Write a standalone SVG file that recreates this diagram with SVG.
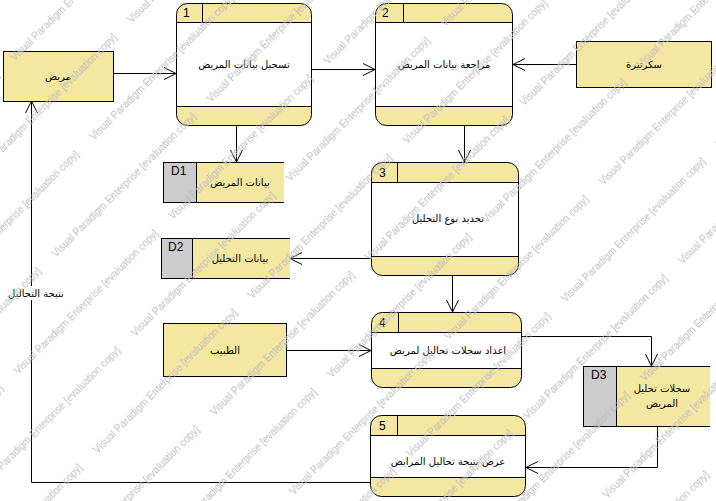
<svg xmlns="http://www.w3.org/2000/svg" width="716" height="501" viewBox="0 0 716 501">
<style>
.ent{fill:#f3e7a1;stroke:#000;stroke-width:1}
.proc{fill:#f3e7a1;stroke:#000;stroke-width:1}
.body{fill:#fff;stroke:#000;stroke-width:1}
.ln{stroke:#000;stroke-width:1;fill:none}
.sid{fill:#cccccc;stroke:#000;stroke-width:1}
.syel{fill:#f3e7a1;stroke:none}
.ar{font-family:"DejaVu Sans",sans-serif;font-size:10px;fill:#000;text-anchor:middle}
.num{font-family:"Liberation Sans",Arial,sans-serif;font-size:12px;fill:#000}
.wmt{font-family:"Liberation Sans",Arial,sans-serif;font-size:10px;fill:#bdbdbd}
.con{stroke:#000;stroke-width:1;fill:none;marker-end:url(#arr)}
</style>
<defs>
<marker id="arr" viewBox="-13 -7 14 14" refX="0" refY="0" markerWidth="14" markerHeight="14" markerUnits="userSpaceOnUse" orient="auto">
<path d="M-12,-6 L0,0 L-12,6" fill="none" stroke="#000" stroke-width="1"/>
</marker>
<pattern id="wm" patternUnits="userSpaceOnUse" width="219" height="112" patternTransform="rotate(-45) translate(176,24)">
<g class="wmt">
<text x="10" y="30">Visual Paradigm Enterprise [evaluation copy]</text>
<text x="-209" y="30">Visual Paradigm Enterprise [evaluation copy]</text>
<text x="119.5" y="86">Visual Paradigm Enterprise [evaluation copy]</text>
<text x="-99.5" y="86">Visual Paradigm Enterprise [evaluation copy]</text>
</g>
</pattern>
</defs>
<rect width="716" height="501" fill="#fff"/>

<g id="connectors">
<line class="con" x1="114" y1="73.5" x2="176" y2="73.5"/>
<line class="con" x1="312" y1="69.5" x2="375" y2="69.5"/>
<line class="con" x1="576" y1="64.5" x2="513" y2="64.5"/>
<line class="con" x1="236.5" y1="126" x2="236.5" y2="162"/>
<line class="con" x1="464.5" y1="126" x2="464.5" y2="162"/>
<line class="con" x1="371" y1="258.5" x2="290" y2="258.5"/>
<line class="con" x1="452.5" y1="276" x2="452.5" y2="312"/>
<line class="con" x1="287" y1="350.5" x2="371" y2="350.5"/>
<polyline class="con" points="522,336.5 651.5,336.5 651.5,366"/>
<polyline class="con" points="657.5,426 657.5,467.5 526,467.5"/>
<polyline class="con" points="370,482.5 31.5,482.5 31.5,101"/>
<rect x="12" y="286" width="48" height="14" fill="#fff"/>
<text class="ar" x="36" y="297">نتيجة التحاليل</text>
</g>

<g id="patient">
<rect class="ent" x="3.5" y="51.5" width="110" height="50"/>
<text class="ar" x="58" y="80">مريض</text>
</g>

<g id="secretary">
<rect class="ent" x="576.5" y="41.5" width="135" height="46"/>
<text class="ar" x="644" y="68">سكرتيرة</text>
</g>

<g id="doctor">
<rect class="ent" x="163.5" y="323.5" width="123" height="53"/>
<text class="ar" x="225" y="354">الطبيب</text>
</g>

<g id="p1">
<rect class="proc" x="176.5" y="3.5" width="135" height="122" rx="11"/>
<rect class="body" x="176.5" y="22.5" width="135" height="84"/>
<line class="ln" x1="202.5" y1="3.5" x2="202.5" y2="22.5"/>
<text class="num" x="183" y="17">1</text>
<text class="ar" x="244" y="68">تسجيل بيانات المريض</text>
</g>

<g id="p2">
<rect class="proc" x="375.5" y="3.5" width="137" height="122" rx="11"/>
<rect class="body" x="375.5" y="22.5" width="137" height="84"/>
<line class="ln" x1="403.5" y1="3.5" x2="403.5" y2="22.5"/>
<text class="num" x="382" y="17">2</text>
<text class="ar" x="444" y="68">مراجعة بيانات المريض</text>
</g>

<g id="p3">
<rect class="proc" x="371.5" y="162.5" width="147" height="113" rx="11"/>
<rect class="body" x="371.5" y="182.5" width="147" height="74"/>
<line class="ln" x1="397.5" y1="162.5" x2="397.5" y2="182.5"/>
<text class="num" x="379" y="177">3</text>
<text class="ar" x="448" y="222">تحديد نوع التحليل</text>
</g>

<g id="p4">
<rect class="proc" x="371.5" y="312.5" width="150" height="75" rx="11"/>
<rect class="body" x="371.5" y="332.5" width="150" height="36"/>
<line class="ln" x1="398.5" y1="312.5" x2="398.5" y2="332.5"/>
<text class="num" x="379" y="327">4</text>
<text class="ar" x="448" y="354">اعداد سجلات تحاليل لمريض</text>
</g>

<g id="p5">
<rect class="proc" x="370.5" y="415.5" width="155" height="81" rx="11"/>
<rect class="body" x="370.5" y="435.5" width="155" height="42"/>
<line class="ln" x1="397.5" y1="415.5" x2="397.5" y2="435.5"/>
<text class="num" x="379" y="430">5</text>
<text class="ar" x="448" y="465">عرض نتيجة تحاليل المرايض</text>
</g>

<g id="d1">
<rect class="syel" x="196" y="162.5" width="88" height="40"/>
<rect class="sid" x="163.5" y="162.5" width="33" height="40"/>
<path class="ln" d="M196.5,162.5 H284 M196.5,202.5 H284"/>
<text class="num" x="171" y="175">D1</text>
<text class="ar" x="240" y="186">بيانات المريض</text>
</g>

<g id="d2">
<rect class="syel" x="192" y="238.5" width="98" height="40"/>
<rect class="sid" x="161.5" y="238.5" width="31" height="40"/>
<path class="ln" d="M192.5,238.5 H290 M192.5,278.5 H290"/>
<text class="num" x="168" y="251">D2</text>
<text class="ar" x="240" y="262">بيانات التحليل</text>
</g>

<g id="d3">
<rect class="syel" x="616" y="366.5" width="94" height="60"/>
<rect class="sid" x="583.5" y="366.5" width="33" height="60"/>
<path class="ln" d="M616.5,366.5 H710 M616.5,426.5 H710"/>
<text class="num" x="591" y="379">D3</text>
<text class="ar" x="662" y="392">سجلات تحليل</text>
<text class="ar" x="662" y="407">المريض</text>
</g>

<rect width="716" height="501" fill="url(#wm)" pointer-events="none"/>
</svg>
